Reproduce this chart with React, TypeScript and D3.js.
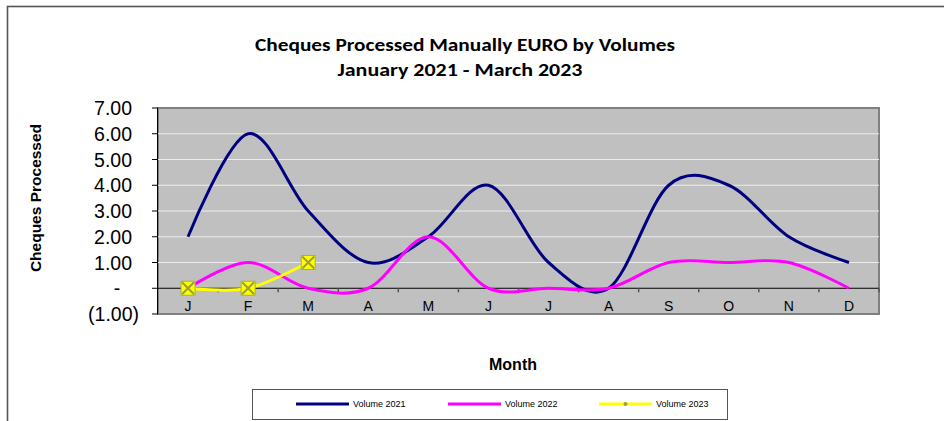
import React from "react";
import { scaleBand, scaleLinear, line, curveCatmullRom, range } from "d3";

// month initials along the x axis
const months = ["J", "F", "M", "A", "M", "J", "J", "A", "S", "O", "N", "D"];
const yTicks = [-1, 0, 1, 2, 3, 4, 5, 6, 7];

const volume2021 = [2, 6, 3, 1, 2, 4, 1, 0, 4, 4, 2, 1];
const volume2022 = [0, 1, 0, 0, 2, 0, 0, 0, 1, 1, 1, 0];
const volume2023 = [0, 0, 1];

const seriesNames = ["Volume 2021", "Volume 2022", "Volume 2023"];
const seriesColors = ["#000080", "#FF00FF", "#FFFF00"];

const W = 944;
const H = 421;
const plot = { left: 158, right: 879, top: 108, bottom: 314 };

function fmtTick(v: number) {
  if (v === 0) return "-";
  if (v < 0) return `(${Math.abs(v).toFixed(2)})`;
  return v.toFixed(2);
}

export default function App() {
  const x = scaleBand<number>()
    .domain(range(months.length))
    .range([plot.left, plot.right]);
  const y = scaleLinear().domain([-1, 7]).range([plot.bottom, plot.top]);
  const cx = (i: number) => (x(i) as number) + x.bandwidth() / 2;

  const lineGen = line<number>()
    .x((_, i) => cx(i))
    .y((d) => y(d))
    .curve(curveCatmullRom.alpha(0));

  const series = [volume2021, volume2022, volume2023];
  const legendX = [296, 448, 599];

  return (
    <svg
      width={W}
      height={H}
      style={{ position: "absolute", left: 0, top: 0, fontFamily: "Arial, 'Liberation Sans', sans-serif" }}
    >
      <rect x={0} y={0} width={W} height={H} fill="#fff" />
      {/* outer chart frame, runs off the right and bottom */}
      <rect x={7.5} y={6.5} width={1200} height={600} fill="none" stroke="#555" strokeWidth={1.6} />

      {/* title */}
      <g fontFamily="Carlito, Calibri, Lato, sans-serif" fontWeight="bold" fontSize={19} textAnchor="middle" fill="#000">
        <text x={465} y={51} textLength={420} lengthAdjust="spacingAndGlyphs">
          Cheques Processed Manually EURO by Volumes
        </text>
        <text x={460} y={76} textLength={245} lengthAdjust="spacingAndGlyphs">
          January 2021 - March 2023
        </text>
      </g>

      {/* plot area */}
      <rect
        x={plot.left}
        y={plot.top}
        width={plot.right - plot.left}
        height={plot.bottom - plot.top}
        fill="#C0C0C0"
        stroke="#808080"
        strokeWidth={2}
      />
      {yTicks
        .filter((t) => t > 0 && t < 7)
        .map((t) => (
          <line key={t} x1={plot.left} x2={plot.right} y1={y(t)} y2={y(t)} stroke="#ececec" strokeWidth={1.2} />
        ))}

      {/* y axis */}
      <line x1={plot.left - 0.5} x2={plot.left - 0.5} y1={plot.top} y2={plot.bottom} stroke="#000" />
      {yTicks.map((t) => (
        <g key={t}>
          <line x1={plot.left - 6} x2={plot.left} y1={y(t)} y2={y(t)} stroke="#000" />
          <text
            x={t === 0 ? 117 : t < 0 ? 139 : 132}
            y={y(t) + 7}
            fontSize={19.5}
            textAnchor={t === 0 ? "middle" : "end"}
            fill="#000"
          >
            {fmtTick(t)}
          </text>
        </g>
      ))}

      {/* zero line with tick marks between months */}
      <line x1={plot.left} x2={plot.right} y1={y(0)} y2={y(0)} stroke="#000" />
      {range(1, months.length + 1).map((i) => {
        const tx = plot.left + i * x.step();
        return <line key={i} x1={tx} x2={tx} y1={y(0)} y2={y(0) + 4} stroke="#555" strokeWidth={1.5} />;
      })}
      {months.map((m, i) => (
        <text key={i} x={cx(i)} y={311} fontSize={14} textAnchor="middle" fill="#000">
          {m}
        </text>
      ))}

      {/* series */}
      {series.map((s, k) => (
        <path key={k} d={lineGen(s) || ""} fill="none" stroke={seriesColors[k]} strokeWidth={3} />
      ))}
      {volume2023.map((v, i) => {
        const px = cx(i);
        const py = y(v);
        return (
          <g key={i}>
            <rect x={px - 7} y={py - 7} width={14} height={14} fill="#FFFF00" stroke="#a8b040" strokeWidth={1} />
            <line x1={px - 6} y1={py - 6} x2={px + 6} y2={py + 6} stroke="#9aa040" strokeWidth={2} />
            <line x1={px - 6} y1={py + 6} x2={px + 6} y2={py - 6} stroke="#9aa040" strokeWidth={2} />
          </g>
        );
      })}

      {/* axis titles */}
      <text
        transform="translate(41,198) rotate(-90)"
        fontSize={15.5}
        fontWeight="bold"
        textAnchor="middle"
        fill="#000"
      >
        Cheques Processed
      </text>
      <text x={513} y={370} fontSize={16} fontWeight="bold" textAnchor="middle" fill="#000">
        Month
      </text>

      {/* legend */}
      <rect x={252.5} y={389.5} width={475} height={30} fill="#fff" stroke="#555" strokeWidth={1} />
      {seriesNames.map((n, k) => (
        <g key={n}>
          <line x1={legendX[k]} x2={legendX[k] + 53} y1={404} y2={404} stroke={seriesColors[k]} strokeWidth={3} />
          {k === 2 && <circle cx={legendX[k] + 26.5} cy={404} r={2} fill="#9aa040" />}
          <text x={legendX[k] + 57} y={407} fontSize={9} fill="#000">
            {n}
          </text>
        </g>
      ))}
    </svg>
  );
}
